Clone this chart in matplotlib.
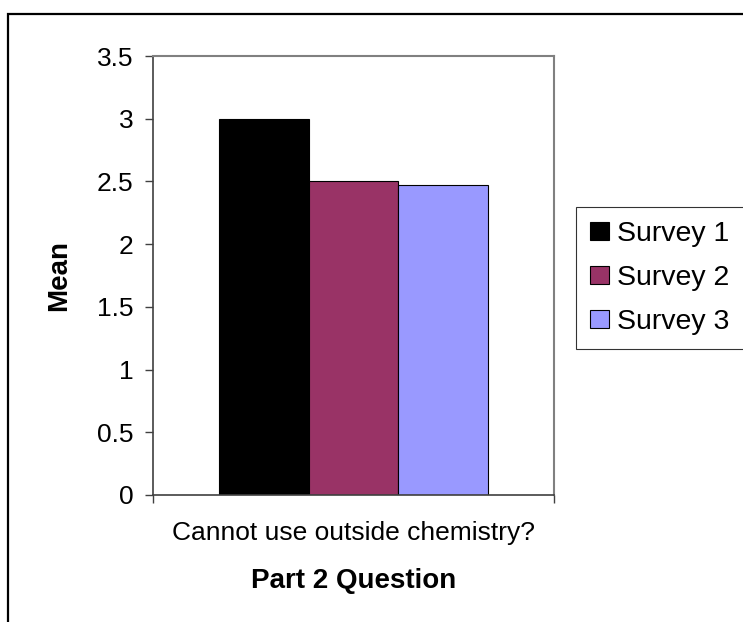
"""
Bar chart of the mean response to one Part 2 question over three surveys
"""

### Import modules
import numpy as np
import matplotlib.pyplot as plt
from matplotlib.patches import Rectangle

### Data
question = 'Cannot use outside chemistry?'
surveys = ['Survey 1', 'Survey 2', 'Survey 3']
means = [3.0, 2.5, 2.47]
colors = ['#000000', '#993366', '#9999ff']
yticks = np.arange(0, 3.51, 0.5)
yticklabels = ['0', '0.5', '1', '1.5', '2', '2.5', '3', '3.5']

### Plot figure
plt.rc('font', family='Liberation Sans')

W, H = 743, 622
fig = plt.figure(figsize=(W / 100, H / 100), dpi=100)

### Outer chart border (runs off the right and bottom edges)
fig.patches.append(Rectangle((8 / W, -0.1), 1.2, 1.1 - 14 / H,
                             transform=fig.transFigure, fill=False,
                             edgecolor='black', linewidth=1.6))

ax = fig.add_axes([153 / W, (H - 495) / H, (554 - 153) / W, (495 - 56) / H])

width = 0.224
offsets = (np.arange(len(surveys)) - 1) * width
for off, val, col, lab in zip(offsets, means, colors, surveys):
    ax.bar(off, val, width=width, color=col, edgecolor='black',
           linewidth=0.8, label=lab, zorder=2)

ax.set_xlim(-0.5, 0.5)
ax.set_ylim(0, 3.5)
ax.set_yticks(yticks)
ax.set_yticklabels(yticklabels, fontsize=19)
ax.set_xticks([-0.5, 0.5])
ax.set_xticklabels(['', ''])
ax.set_xticks([0], minor=True)
ax.set_xticklabels([question], minor=True, fontsize=19)
ax.tick_params(axis='x', which='minor', length=0, pad=18.5)
ax.tick_params(axis='x', which='major', direction='out', length=6,
               width=1, color='#404040')
ax.tick_params(axis='y', direction='out', length=6, width=1,
               color='#404040', pad=8)

for loc in ['left', 'bottom']:
    ax.spines[loc].set_color('#404040')
    ax.spines[loc].set_linewidth(1.2)
for loc in ['top', 'right']:
    ax.spines[loc].set_color('#808080')
    ax.spines[loc].set_linewidth(1.5)

ax.set_ylabel('Mean', fontsize=20, fontweight='bold', labelpad=18)
ax.set_xlabel('Part 2 Question', fontsize=20, fontweight='bold', labelpad=17)

le = ax.legend(loc='upper left', bbox_to_anchor=(576 / W, 1 - 207 / H),
               bbox_transform=fig.transFigure, fontsize=20.5, frameon=True,
               fancybox=False, edgecolor='black', borderpad=0.5,
               handlelength=0.65, handleheight=0.6, handletextpad=0.3,
               labelspacing=0.63, borderaxespad=0)
le.get_frame().set_linewidth(0.8)

plt.savefig('out.png', dpi=100)
